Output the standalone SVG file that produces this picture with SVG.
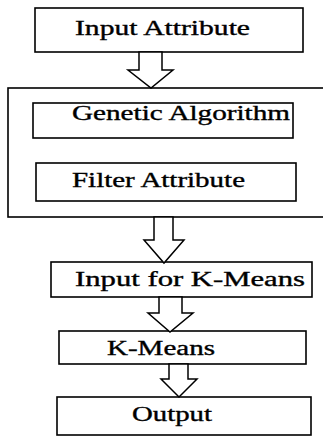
<svg xmlns="http://www.w3.org/2000/svg" width="323" height="438" viewBox="0 0 323 438">
<style>
.box{fill:#fff;stroke:#000;stroke-width:1.6}
.arr{fill:#fff;stroke:#000;stroke-width:1.5;stroke-linejoin:miter}
.t{font-family:'Liberation Serif','Times New Roman',serif;font-size:20px;fill:#000;stroke:#000;stroke-width:0.35}
</style>
<rect width="323" height="438" fill="#fff"/>
<g id="container"><rect class="box" x="8" y="88" width="322" height="129"/></g>
<g id="input-attribute"><rect class="box" x="35" y="8" width="268" height="44"/><text class="t" x="75" y="35" textLength="175" lengthAdjust="spacingAndGlyphs">Input Attribute</text></g>
<g id="genetic-algorithm"><rect class="box" x="33" y="103" width="260" height="35"/><text class="t" x="72" y="120" textLength="218" lengthAdjust="spacingAndGlyphs">Genetic Algorithm</text></g>
<g id="filter-attribute"><rect class="box" x="36" y="163" width="260" height="38"/><text class="t" x="72" y="187" textLength="173" lengthAdjust="spacingAndGlyphs">Filter Attribute</text></g>
<g id="input-kmeans"><rect class="box" x="51" y="262" width="261" height="35"/><text class="t" x="75" y="286" textLength="230" lengthAdjust="spacingAndGlyphs">Input for K-Means</text></g>
<g id="kmeans"><rect class="box" x="59" y="331" width="247" height="33"/><text class="t" x="107" y="355" textLength="108" lengthAdjust="spacingAndGlyphs">K-Means</text></g>
<g id="output"><rect class="box" x="57" y="397" width="254" height="38"/><text class="t" x="132" y="421" textLength="80" lengthAdjust="spacingAndGlyphs">Output</text></g>
<g id="connectors">
<polygon class="arr" points="139,52 162,52 162,70 173,70 151,88 128,70 139,70"/>
<polygon class="arr" points="154,217 173,217 173,240 184,240 164,263 144,240 154,240"/>
<polygon class="arr" points="159,297 182,297 182,313 193,313 170,332 148,313 159,313"/>
<polygon class="arr" points="169,364 188,364 188,379 197,379 179,397 161,379 169,379"/>
</g>
</svg>
